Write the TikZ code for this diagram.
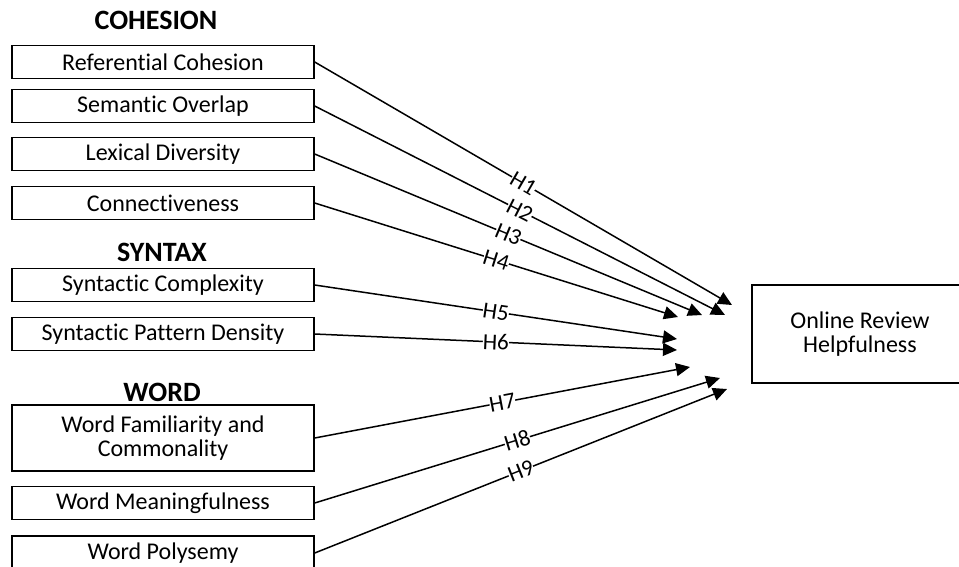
\documentclass[tikz,border=0pt]{standalone}
\usepackage{fontspec}
\setmainfont{Carlito}[Ligatures={NoCommon}]
\usetikzlibrary{arrows.meta}
\begin{document}
\begin{tikzpicture}[x=1pt,y=-1pt,
  box/.style={draw, line width=1.4pt, minimum width=302pt, minimum height=33pt, inner sep=0pt, font=\fontsize{24}{24}\selectfont, align=center},
  head/.style={font=\bfseries\fontsize{28}{30}\selectfont},
  link/.style={line width=1.5pt, -{Triangle[length=14pt,width=13pt]}},
  hlab/.style={sloped, pos=0.5, fill=white, inner sep=0pt, font=\fontsize{23}{23}\selectfont}]
\useasboundingbox (0,0) rectangle (959,566);
\clip (0,0) rectangle (959,566);
% headings
\node[head] (hcoh) at (156,20) {COHESION};
\node[head] (hsyn) at (162,252) {SYNTAX};
\node[head] (hwrd) at (162,392) {WORD};
% source boxes
\node[box] (rc) at (163,62) {Referential Cohesion};
\node[box] (so) at (163,106) {Semantic Overlap};
\node[box] (ld) at (163,154) {Lexical Diversity};
\node[box] (cn) at (163,203) {Connectiveness};
\node[box] (sc) at (163,285) {Syntactic Complexity};
\node[box] (sp) at (163,334) {Syntactic Pattern Density};
\node[box, minimum height=66pt] (wf) at (163,438) {Word Familiarity and\\Commonality};
\node[box] (wm) at (163,503) {Word Meaningfulness};
\node[box, minimum height=34pt] (wp) at (163,553) {Word Polysemy};
% target
\node[box, minimum width=216pt, minimum height=98pt] (orh) at (860,334) {Online Review\\Helpfulness};
% arrow ends
\coordinate (t1) at (732,305);
\coordinate (t2) at (725,315);
\coordinate (t3) at (702,315);
\coordinate (t4) at (678,317);
\coordinate (t5) at (677,339);
\coordinate (t6) at (677,350);
\coordinate (t7) at (690,367);
\coordinate (t8) at (720,378);
\coordinate (t9) at (727,389);
% connectors
\draw[link] (rc.east) -- node[hlab] {H1} (t1);
\draw[link] (so.east) -- node[hlab] {H2} (t2);
\draw[link] (ld.east) -- node[hlab] {H3} (t3);
\draw[link] (cn.east) -- node[hlab] {H4} (t4);
\draw[link] (sc.east) -- node[hlab] {H5} (t5);
\draw[link] (sp.east) -- node[hlab] {H6} (t6);
\draw[link] (wf.east) -- node[hlab] {H7} (t7);
\draw[link] (wm.east) -- node[hlab] {H8} (t8);
\draw[link] (wp.east) -- node[hlab] {H9} (t9);
\end{tikzpicture}
\end{document}
